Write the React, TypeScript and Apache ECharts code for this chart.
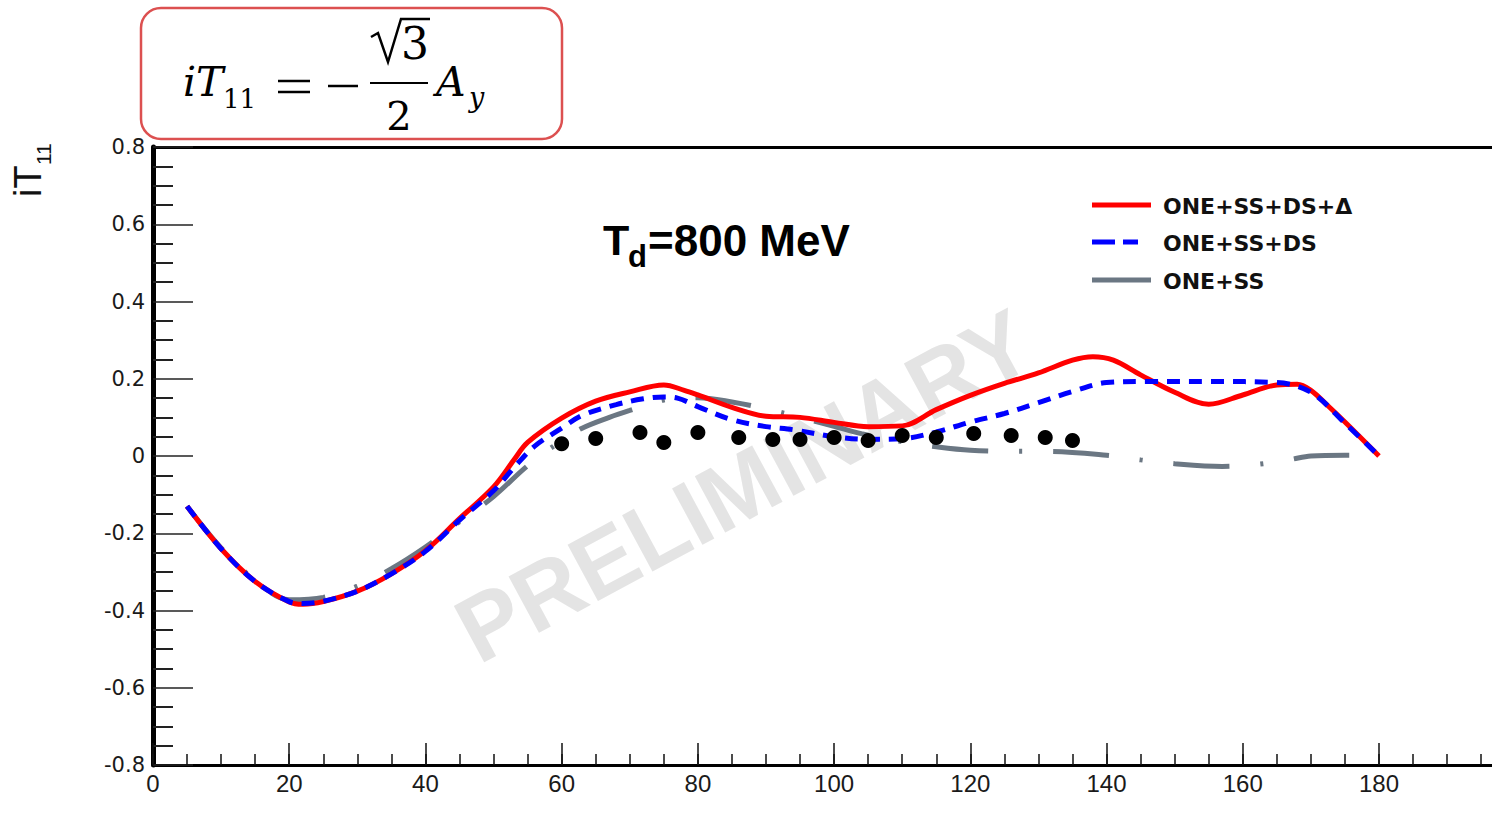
import React, { useEffect, useRef } from "react";
import * as echarts from "echarts";

// Axis ranges: scattering angle (deg) and analyzing power iT11
const X_MIN = 0;
const X_MAX = 197.5;
const Y_MIN = -0.8;
const Y_MAX = 0.8;

const seriesNames = ["ONE+SS+DS+Δ", "ONE+SS+DS", "ONE+SS", "Data"];

// ONE + single scattering + double scattering + Δ
const fullCalc: [number, number][] = [
  [5, -0.13], [10, -0.24], [15, -0.325], [20, -0.378], [22, -0.384], [25, -0.377],
  [30, -0.35], [35, -0.305], [40, -0.245], [45, -0.162], [50, -0.08], [53, -0.01],
  [55, 0.035], [60, 0.098], [65, 0.142], [70, 0.166], [75, 0.184], [78, 0.17],
  [80, 0.158], [85, 0.126], [90, 0.103], [95, 0.1], [100, 0.087], [105, 0.076],
  [110, 0.078], [115, 0.12], [120, 0.157], [125, 0.188], [130, 0.215], [135, 0.248],
  [138, 0.257], [141, 0.248], [145, 0.21], [150, 0.165], [155, 0.134], [160, 0.158],
  [165, 0.184], [168, 0.186], [170, 0.17], [172.5, 0.13], [175, 0.088], [180, 0.0],
];

// ONE + single scattering + double scattering
const noDeltaCalc: [number, number][] = [
  [5, -0.13], [10, -0.24], [15, -0.325], [20, -0.377], [22, -0.382], [25, -0.376],
  [30, -0.35], [35, -0.305], [40, -0.247], [45, -0.166], [50, -0.09], [53, -0.03],
  [56, 0.025], [60, 0.072], [63, 0.105], [68, 0.133], [72, 0.148], [75, 0.153],
  [77, 0.15], [80, 0.128], [85, 0.094], [90, 0.076], [94, 0.068], [100, 0.05],
  [105, 0.043], [110, 0.045], [115, 0.062], [120, 0.088], [125, 0.11], [130, 0.138],
  [135, 0.167], [140, 0.19], [146, 0.193], [155, 0.193], [165, 0.19], [170, 0.165],
  [175, 0.085], [180, 0.0],
];

// ONE + single scattering
const singleScatCalc: [number, number][] = [
  [5, -0.13], [10, -0.238], [15, -0.322], [20, -0.372], [25, -0.366], [30, -0.337],
  [35, -0.292], [40, -0.236], [45, -0.17], [50, -0.105], [55, -0.025], [60, 0.04],
  [63, 0.072], [67, 0.1], [70, 0.118], [75, 0.145], [80, 0.151], [85, 0.14],
  [90, 0.122], [95, 0.1], [100, 0.077], [104, 0.058], [110, 0.037], [115, 0.024],
  [120, 0.015], [127, 0.012], [131, 0.012], [140, 0.002], [145, -0.01], [150, -0.02],
  [157, -0.027], [162, -0.022], [167, -0.009], [170, 0.0], [175, 0.002], [180, 0.0],
];

// Measured iT11 points
const measured: [number, number][] = [
  [60, 0.032], [65, 0.045], [71.5, 0.061], [75, 0.035], [80, 0.061], [86, 0.048],
  [91, 0.043], [95, 0.043], [100, 0.048], [105, 0.04], [110, 0.053], [115, 0.048],
  [120.5, 0.058], [126, 0.053], [131, 0.048], [135, 0.04],
];

const titleMain = "T";
const titleSub = "d";
const titleRest = "=800 MeV";
const watermark = "PRELIMINARY";

const SANS = '"Liberation Sans", Arial, sans-serif';
const DEJAVU = '"DejaVu Sans", sans-serif';
const SERIF = '"DejaVu Serif", serif';

const colors = ["#ff0000", "#0000ff", "#6b7783", "#000000"];

// plot frame geometry; the frame runs past the visible right edge
const PLOT_LEFT = 153;
const PLOT_TOP = 147;
const PLOT_HEIGHT = 618;
const PX_PER_DEG = 6.811;
const CANVAS_W = 1520;

export default function App() {
  const ref = useRef<HTMLDivElement>(null);

  useEffect(() => {
    document.body.style.margin = "0";
    if (!ref.current) return;
    const chart = echarts.init(ref.current, null, { renderer: "svg" });

    const hiddenAxisBits = {
      axisLabel: { show: false },
      splitLine: { show: false },
    };

    const legendRows = [
      { y: 205, dash: "solid" as any, color: colors[0], x2: 1151 },
      { y: 242, dash: [23, 8] as any, color: colors[1], x2: 1138 },
      { y: 280, dash: "solid" as any, color: colors[2], x2: 1151 },
    ];

    const option: any = {
      animation: false,
      backgroundColor: "#ffffff",
      grid: {
        left: PLOT_LEFT,
        top: PLOT_TOP,
        width: (X_MAX - X_MIN) * PX_PER_DEG,
        height: PLOT_HEIGHT,
        containLabel: false,
      },
      xAxis: [
        {
          type: "value",
          min: X_MIN,
          max: X_MAX,
          interval: 20,
          position: "bottom",
          axisLine: { show: true, onZero: false, lineStyle: { color: "#000", width: 3 } },
          axisTick: { show: true, inside: true, length: 22, lineStyle: { color: "#111", width: 1.5 } },
          axisLabel: {
            show: true,
            margin: 6,
            fontSize: 24,
            fontFamily: SANS,
            color: "#1a1a1a",
            showMaxLabel: false,
            formatter: (v: number) => (v > 180 ? "" : String(v)),
          },
          splitLine: { show: false },
        },
        {
          type: "value",
          min: X_MIN,
          max: X_MAX,
          interval: 5,
          position: "bottom",
          axisLine: { show: false, onZero: false },
          axisTick: { show: true, inside: true, length: 11, lineStyle: { color: "#111", width: 1.5 } },
          ...hiddenAxisBits,
        },
        {
          type: "value",
          min: X_MIN,
          max: X_MAX,
          position: "top",
          axisLine: { show: true, onZero: false, lineStyle: { color: "#000", width: 3 } },
          axisTick: { show: false },
          ...hiddenAxisBits,
        },
      ],
      yAxis: {
        type: "value",
        min: Y_MIN,
        max: Y_MAX,
        interval: 0.2,
        axisLine: { show: true, onZero: false, lineStyle: { color: "#000", width: 5 } },
        axisTick: { show: true, inside: true, length: 40, lineStyle: { color: "#222", width: 1.5 } },
        minorTick: { show: true, splitNumber: 4, length: 20, lineStyle: { color: "#222", width: 2 } },
        axisLabel: {
          margin: 8,
          fontSize: 21,
          fontFamily: DEJAVU,
          color: "#1a1a1a",
          formatter: (v: number) => (Math.abs(v) < 1e-9 ? "0" : v.toFixed(1)),
        },
        splitLine: { show: false },
      },
      series: [
        {
          name: seriesNames[2],
          type: "line",
          xAxisIndex: 0,
          data: singleScatCalc,
          smooth: 0.35,
          showSymbol: false,
          z: 2,
          lineStyle: { color: colors[2], width: 5, type: [56, 31, 3, 31], cap: "butt" },
        },
        {
          name: seriesNames[0],
          type: "line",
          xAxisIndex: 0,
          data: fullCalc,
          smooth: 0.35,
          showSymbol: false,
          z: 3,
          lineStyle: { color: colors[0], width: 5 },
        },
        {
          name: seriesNames[1],
          type: "line",
          xAxisIndex: 0,
          data: noDeltaCalc,
          smooth: 0.35,
          showSymbol: false,
          z: 4,
          lineStyle: { color: colors[1], width: 5, type: [13, 9], cap: "butt" },
        },
        {
          name: seriesNames[3],
          type: "scatter",
          xAxisIndex: 0,
          data: measured,
          symbol: "circle",
          symbolSize: 15,
          z: 5,
          itemStyle: { color: colors[3], opacity: 1 },
        },
      ],
      graphic: [
        // watermark
        {
          type: "text",
          x: 744,
          y: 486,
          rotation: 0.494,
          z: 0,
          style: {
            text: watermark,
            font: `bold 93px ${SANS}`,
            fill: "#e4e4e4",
            align: "center",
            verticalAlign: "middle",
          },
        },
        // formula box
        {
          type: "rect",
          z: 10,
          shape: { x: 141, y: 8, width: 421, height: 131, r: 20 },
          style: { fill: "#ffffff", stroke: "#dc5050", lineWidth: 2.5 },
        },
        {
          type: "text",
          z: 11,
          x: 183,
          y: 82,
          style: { text: "iT", font: `italic 41px ${SERIF}`, fill: "#000", align: "left", verticalAlign: "middle" },
        },
        {
          type: "text",
          z: 11,
          x: 223,
          y: 99,
          style: { text: "11", font: `26px ${SERIF}`, fill: "#000", align: "left", verticalAlign: "middle" },
        },
        { type: "line", z: 11, shape: { x1: 278, y1: 81, x2: 310, y2: 81 }, style: { stroke: "#000", lineWidth: 2.5 } },
        { type: "line", z: 11, shape: { x1: 278, y1: 92, x2: 310, y2: 92 }, style: { stroke: "#000", lineWidth: 2.5 } },
        { type: "line", z: 11, shape: { x1: 328, y1: 86, x2: 358, y2: 86 }, style: { stroke: "#000", lineWidth: 2.5 } },
        { type: "line", z: 11, shape: { x1: 370, y1: 83, x2: 428, y2: 83 }, style: { stroke: "#000", lineWidth: 2.2 } },
        {
          type: "polyline",
          z: 11,
          shape: { points: [[371, 37], [378, 33], [388, 62], [401, 19], [430, 19]] },
          style: { stroke: "#000", lineWidth: 2.5, fill: null },
        },
        {
          type: "text",
          z: 11,
          x: 415,
          y: 43,
          style: { text: "3", font: `44px ${SERIF}`, fill: "#000", align: "center", verticalAlign: "middle" },
        },
        {
          type: "text",
          z: 11,
          x: 399,
          y: 116,
          style: { text: "2", font: `40px ${SERIF}`, fill: "#000", align: "center", verticalAlign: "middle" },
        },
        {
          type: "text",
          z: 11,
          x: 436,
          y: 82,
          style: { text: "A", font: `italic 41px ${SERIF}`, fill: "#000", align: "left", verticalAlign: "middle" },
        },
        {
          type: "text",
          z: 11,
          x: 469,
          y: 97,
          style: { text: "y", font: `italic 27px ${SERIF}`, fill: "#000", align: "left", verticalAlign: "middle" },
        },
        // y-axis title iT11 (rotated)
        {
          type: "group",
          x: 28,
          y: 197,
          rotation: Math.PI / 2,
          z: 10,
          children: [
            {
              type: "text",
              x: 0,
              y: 0,
              style: { text: "iT", font: `38px ${SANS}`, fill: "#111", align: "left", verticalAlign: "middle" },
            },
            {
              type: "text",
              x: 32,
              y: 15,
              style: { text: "11", font: `21px ${SANS}`, fill: "#111", align: "left", verticalAlign: "middle" },
            },
          ],
        },
        // energy label
        {
          type: "text",
          z: 10,
          x: 603,
          y: 240,
          style: { text: titleMain, font: `bold 43px ${SANS}`, fill: "#000", align: "left", verticalAlign: "middle" },
        },
        {
          type: "text",
          z: 10,
          x: 628,
          y: 256,
          style: { text: titleSub, font: `bold 31px ${SANS}`, fill: "#000", align: "left", verticalAlign: "middle" },
        },
        {
          type: "text",
          z: 10,
          x: 648,
          y: 240,
          style: { text: titleRest, font: `bold 44px ${SANS}`, fill: "#000", align: "left", verticalAlign: "middle" },
        },
        // legend
        ...legendRows.flatMap((row, i) => [
          {
            type: "line",
            z: 10,
            shape: { x1: 1092, y1: row.y, x2: row.x2, y2: row.y },
            style: {
              stroke: row.color,
              lineWidth: 5,
              lineDash: row.dash === "solid" ? null : row.dash,
            },
          },
          {
            type: "text",
            z: 10,
            x: 1163,
            y: row.y + 1,
            style: {
              text: seriesNames[i],
              font: `bold 22px ${DEJAVU}`,
              fill: "#111",
              align: "left",
              verticalAlign: "middle",
            },
          },
        ]),
      ],
    };

    chart.setOption(option);
    return () => {
      chart.dispose();
    };
  }, []);

  return (
    <div style={{ position: "absolute", left: 0, top: 0, width: 1492, height: 823, overflow: "hidden" }}>
      <div ref={ref} style={{ width: CANVAS_W, height: 823 }} />
    </div>
  );
}
